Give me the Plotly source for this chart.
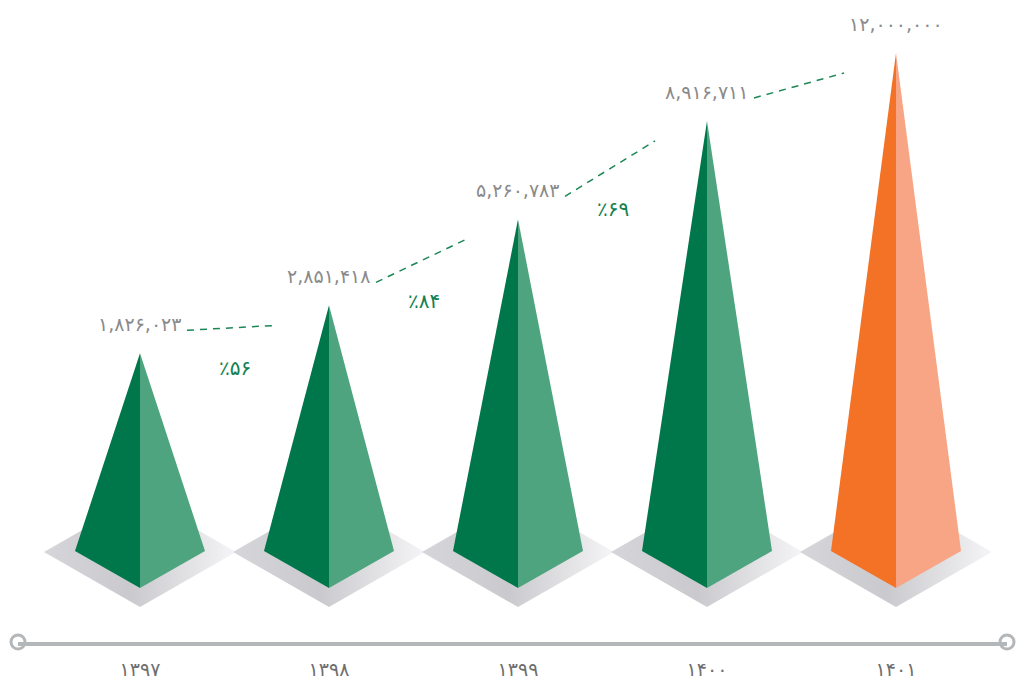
import numpy as np
import plotly.graph_objects as go

# ---- data ----
years = ["۱۳۹۷", "۱۳۹۸", "۱۳۹۹", "۱۴۰۰", "۱۴۰۱"]
values = [1826023, 2851418, 5260783, 8916711, 12000000]
value_labels = ["۱,۸۲۶,۰۲۳", "۲,۸۵۱,۴۱۸", "۵,۲۶۰,۷۸۳", "۸,۹۱۶,۷۱۱", "۱۲,۰۰۰,۰۰۰"]
growth_labels = ["٪۵۶", "٪۸۴", "٪۶۹"]

# ---- styling ----
W, H = 1016, 682
M_L, M_R, M_T, M_B = 18, 9, 0, 40
X_RANGE = [-0.6455, 4.5873]
Y_RANGE = [-680, 3837]          # square-root scale units
BASE = -300                      # level the pyramids stand on

PX = (X_RANGE[1] - X_RANGE[0]) / (W - M_L - M_R)   # x units per pixel
PY = (Y_RANGE[1] - Y_RANGE[0]) / (H - M_T - M_B)   # y units per pixel

DARK = ["#00774a"] * 4 + ["#f37226"]
LIGHT = ["#4ea47e"] * 4 + ["#f7a584"]
GREY_TXT = "#8a8a8a"
YEAR_TXT = "#6e6e6e"
GREEN_TXT = "#13804f"
AXIS_GREY = "#b4b7b9"
FONT = "DejaVu Sans"

heights = np.sqrt(np.array(values, dtype=float))
xs = np.arange(len(values))

fig = go.Figure()

# floor shadows under each pyramid
for i in xs:
    sx = [i - 96 * PX, i, i + 96 * PX, i, i - 96 * PX]
    sy = [BASE + 36 * PY, BASE - 19 * PY, BASE + 36 * PY, BASE + 91 * PY, BASE + 36 * PY]
    fig.add_trace(go.Scatter(
        x=sx, y=sy, mode="lines", fill="toself", line=dict(width=0),
        fillgradient=dict(type="horizontal",
                          colorscale=[[0, "#d6d6da"], [0.45, "#cacace"], [1, "#f5f5f7"]]),
        hoverinfo="skip", showlegend=False))

# pyramid faces
for i, h in zip(xs, heights):
    left = (i - 65 * PX, BASE + 37 * PY)
    front = (i, BASE)
    right = (i + 65 * PX, BASE + 37 * PY)
    apex = (i, h)
    fig.add_trace(go.Scatter(
        x=[apex[0], left[0], front[0], apex[0]], y=[apex[1], left[1], front[1], apex[1]],
        mode="lines", fill="toself", fillcolor=DARK[i], line=dict(width=0),
        hoverinfo="skip", showlegend=False))
    fig.add_trace(go.Scatter(
        x=[apex[0], front[0], right[0], apex[0]], y=[apex[1], front[1], right[1], apex[1]],
        mode="lines", fill="toself", fillcolor=LIGHT[i], line=dict(width=0),
        hoverinfo="skip", showlegend=False))

# dashed connectors between value labels
for i in range(len(values) - 1):
    x0, y0 = i + 47 * PX, heights[i] + 23 * PY
    x1, y1 = i + 1 - 52 * PX, heights[i + 1] - 20 * PY
    fig.add_trace(go.Scatter(
        x=[x0, x1], y=[y0, y1], mode="lines",
        line=dict(color="#1b8755", width=1.5, dash="7px,6px"),
        hoverinfo="skip", showlegend=False))

# value labels above the apexes
for i, (h, lab) in enumerate(zip(heights, value_labels)):
    fig.add_annotation(x=i, y=h, text=lab, showarrow=False, yshift=29,
                       font=dict(family=FONT, size=19, color=GREY_TXT))

# growth percentages between consecutive years
for i, lab in enumerate(growth_labels):
    fig.add_annotation(x=i + 0.5, y=(heights[i] + heights[i + 1]) / 2, text=lab,
                       showarrow=False, yshift=-39,
                       font=dict(family=FONT, size=20, color=GREEN_TXT))

# end caps of the timeline
fig.add_trace(go.Scatter(
    x=X_RANGE, y=[Y_RANGE[0], Y_RANGE[0]], mode="markers", cliponaxis=False,
    marker=dict(size=14, color="white", line=dict(color=AXIS_GREY, width=3)),
    hoverinfo="skip", showlegend=False))

fig.update_layout(
    width=W, height=H,
    margin=dict(l=M_L, r=M_R, t=M_T, b=M_B),
    paper_bgcolor="white", plot_bgcolor="white",
    xaxis=dict(range=X_RANGE, tickvals=list(xs), ticktext=years, ticks="",
               showgrid=False, zeroline=False, showline=True, linecolor=AXIS_GREY,
               linewidth=4, ticklabelstandoff=7,
               tickfont=dict(family=FONT, size=19, color=YEAR_TXT)),
    yaxis=dict(range=Y_RANGE, visible=False, showgrid=False, zeroline=False),
)

fig.write_html("out.html")
